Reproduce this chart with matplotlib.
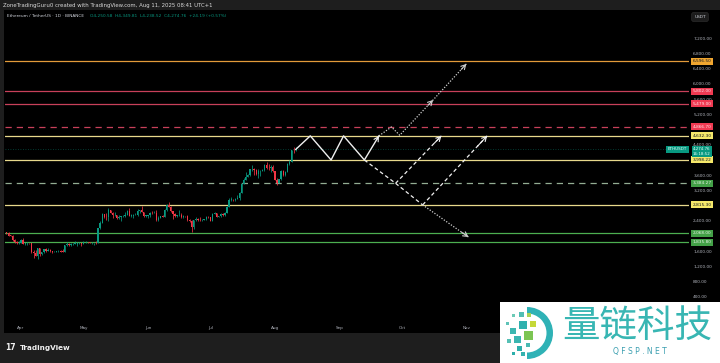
import numpy as np
import pandas as pd
import matplotlib
matplotlib.use('Agg')
import matplotlib.pyplot as plt
from matplotlib.patches import Rectangle, Wedge

plt.rcParams['font.family'] = ['DejaVu Sans', 'Noto Sans CJK SC']

# ---------------- data ----------------
start_date = '2025-03-25'
first_open = 2090
closes = [2070, 2010, 2005, 1895, 1830, 1805, 1822,
          1905, 1795, 1815, 1815, 1805, 1580, 1555, 1475, 1670, 1520, 1565, 1645, 1595, 1625, 1590,
          1575, 1585, 1590, 1615, 1585, 1580, 1755, 1795, 1770, 1785, 1790, 1790, 1800, 1800, 1795,
          1840, 1840, 1835, 1810, 1810, 1815, 1810, 2205, 2345, 2580, 2510, 2500, 2680, 2610, 2545,
          2550, 2475, 2495, 2525, 2525, 2550, 2665, 2530, 2530, 2550, 2560, 2660, 2680, 2630, 2530, 2530,
          2540, 2610, 2590, 2610, 2420, 2480, 2525, 2510, 2680, 2815, 2770, 2645, 2580, 2525, 2545,
          2550, 2510, 2525, 2520, 2410, 2405, 2230, 2410, 2445, 2420, 2415, 2425, 2435, 2500, 2485,
          2405, 2575, 2595, 2510, 2515, 2570, 2545, 2615, 2770, 2950, 2955, 2945, 2970, 3010, 3140,
          3370, 3475, 3545, 3590, 3755, 3760, 3740, 3630, 3710, 3720, 3740, 3865, 3795, 3790, 3810, 3695,
          3480, 3395, 3490, 3720, 3610, 3680, 3905, 3950, 4255, 4250, 4274.76]
highs = [2110, 2095, 2035, 2030, 1910, 1855, 1860,
         1925, 1955, 1825, 1835, 1825, 1815, 1640, 1620, 1690, 1670, 1580, 1650, 1690, 1670, 1660,
         1610, 1600, 1600, 1640, 1620, 1660, 1770, 1830, 1800, 1800, 1805, 1860, 1840, 1840, 1810,
         1875, 1870, 1850, 1845, 1835, 1825, 1865, 2215, 2400, 2600, 2580, 2610, 2730, 2690, 2620,
         2640, 2560, 2550, 2530, 2560, 2620, 2690, 2740, 2575, 2570, 2590, 2700, 2690, 2790, 2640, 2545,
         2550, 2620, 2650, 2650, 2680, 2530, 2530, 2540, 2700, 2830, 2880, 2790, 2650, 2590, 2550,
         2690, 2590, 2540, 2530, 2560, 2445, 2420, 2420, 2490, 2470, 2490, 2450, 2440, 2520, 2530,
         2495, 2590, 2635, 2600, 2530, 2590, 2590, 2620, 2790, 2990, 3020, 2970, 3000, 3080, 3160,
         3380, 3520, 3680, 3620, 3760, 3860, 3780, 3750, 3760, 3740, 3765, 3880, 3940, 3880, 3860, 3870,
         3710, 3520, 3500, 3740, 3730, 3720, 3920, 4010, 4270, 4330, 4349.81]
lows = [2050, 1995, 1985, 1870, 1810, 1785, 1790,
        1815, 1780, 1750, 1770, 1790, 1540, 1410, 1460, 1385, 1470, 1505, 1540, 1575, 1590, 1580,
        1540, 1565, 1575, 1580, 1570, 1570, 1570, 1745, 1725, 1745, 1770, 1780, 1745, 1790, 1735,
        1790, 1825, 1825, 1800, 1790, 1755, 1785, 1805, 2170, 2330, 2470, 2410, 2400, 2590, 2480,
        2530, 2450, 2440, 2400, 2490, 2500, 2550, 2520, 2510, 2470, 2540, 2520, 2610, 2620, 2510, 2490,
        2470, 2500, 2580, 2590, 2380, 2400, 2460, 2490, 2500, 2660, 2755, 2630, 2440, 2500, 2510,
        2530, 2460, 2470, 2500, 2380, 2360, 2110, 2170, 2390, 2390, 2400, 2380, 2410, 2420, 2470,
        2380, 2390, 2565, 2490, 2500, 2505, 2520, 2520, 2600, 2750, 2930, 2920, 2930, 2970, 2950,
        3120, 3360, 3470, 3540, 3580, 3720, 3610, 3600, 3520, 3580, 3710, 3710, 3760, 3740, 3680, 3680,
        3470, 3350, 3380, 3480, 3570, 3580, 3670, 3860, 3940, 4180, 4238.52]
opens = [first_open] + closes[:-1]

level_prices = [6596.50, 5802.00, 5479.00, 4866.70, 4632.30, 3998.22, 3384.27, 2815.30, 2068.00, 1835.80]
level_labels = ['6,596.50', '5,802.00', '5,479.00', '4,866.70', '4,632.30', '3,998.22',
                '3,384.27', '2,815.30', '2,068.00', '1,835.80']
y_ticks = [7200, 6800, 6400, 6000, 5600, 5200, 4400, 3600, 3200, 2400, 1600, 1200, 800, 400]
month_ticks = ['2025-04-01', '2025-05-01', '2025-06-01', '2025-07-01', '2025-08-01',
               '2025-09-01', '2025-10-01', '2025-11-01']
month_labels = ['Apr', 'May', 'Jun', 'Jul', 'Aug', 'Sep', 'Oct', 'Nov']
last_price = 4274.76

# projection paths (date, price)
zigzag_dates = ['2025-08-11', '2025-08-18', '2025-08-28', '2025-09-03', '2025-09-13', '2025-09-20']
zigzag_prices = [4274.76, 4632.30, 3998.22, 4632.30, 3998.22, 4632.30]
bull_dates = ['2025-09-20', '2025-09-26', '2025-09-30', '2025-10-16', '2025-11-01']
bull_prices = [4632.30, 4866.70, 4650, 5576, 6526]
bear_dates = ['2025-09-13', '2025-09-28', '2025-10-11']
bear_prices = [3998.22, 3384.27, 2815.30]
rebound1_dates = ['2025-09-28', '2025-10-20']
rebound1_prices = [3384.27, 4632.30]
rebound2_dates = ['2025-10-11', '2025-11-11']
rebound2_prices = [2815.30, 4632.30]
drop_dates = ['2025-10-11', '2025-11-02']
drop_prices = [2815.30, 1971]

# ---------------- style ----------------
W, H = 720, 363
BG_PANEL = '#000000'
BG_FRAME = '#1e1e1e'
UP = '#089981'
DOWN = '#f23645'
AXIS_TXT = '#b2b5be'
ORANGE = '#e39b3a'
RED_LINE = '#c8405a'
RED_LBL = '#f03a52'
YEL_LINE = '#e8d98c'
YEL_LBL = '#f4e76a'
GRN_LINE = '#4caf50'
GRN_LBL = '#43a047'
GRN_DASH = '#93ad93'

level_line_colors = [ORANGE, RED_LINE, RED_LINE, RED_LINE, YEL_LINE, YEL_LINE, GRN_DASH, YEL_LINE, GRN_LINE, GRN_LINE]
level_box_colors = ['#f0a630', RED_LBL, RED_LBL, RED_LBL, YEL_LBL, YEL_LBL, GRN_LBL, YEL_LBL, GRN_LBL, GRN_LBL]
level_txt_colors = ['#131722', '#fde3e6', '#fde3e6', '#fde3e6', '#131722', '#131722', '#e8f5e8', '#131722', '#e8f5e8', '#e8f5e8']
level_ls = ['-', '-', '-', (0, (5, 4)), '-', '-', (0, (5, 4)), '-', '-', '-']

fig = plt.figure(figsize=(W / 100, H / 100), dpi=100, facecolor=BG_FRAME)
# black chart panel (behind the axes)
fig.patches.append(Rectangle((4 / W, (H - 333) / H), 1 - 4 / W, (333 - 10) / H,
                             transform=fig.transFigure, facecolor=BG_PANEL, edgecolor='none', zorder=-5))

ax = fig.add_axes([5 / W, (H - 322) / H, 684 / W, 312 / H])
ax.set_facecolor(BG_PANEL)
ref = pd.Timestamp('2025-04-01')
dates = pd.date_range(start_date, periods=len(closes), freq='D')
x = np.array((dates - ref).days, dtype=float)


def dnum(ds):
    return np.array((pd.to_datetime(ds) - ref).days, dtype=float)


o = np.array(opens, float)
c = np.array(closes, float)
hi = np.array(highs, float)
lo = np.array(lows, float)
up = c >= o
cols = np.where(up, UP, DOWN)

# levels
for p, lc, ls in zip(level_prices, level_line_colors, level_ls):
    ax.axhline(p, color=lc, lw=0.9, ls=ls, zorder=2)
ax.axhline(last_price, color=UP, lw=0.6, ls=(0, (1, 2)), alpha=0.5, zorder=2)

# candles
ax.vlines(x, lo, hi, colors=cols, lw=0.55, zorder=3)
body_b = np.minimum(o, c)
body_h = np.maximum(np.abs(c - o), 10)
ax.bar(x, body_h, bottom=body_b, width=0.62, color=cols, edgecolor='none', zorder=4)

# projections
WHITE = '#f0f0f0'
DOT = '#cfcfcf'
ax.plot(dnum(zigzag_dates), zigzag_prices, color=WHITE, lw=1.0, zorder=6)
bx = dnum(bull_dates)
ax.plot(bx, bull_prices, color=DOT, lw=0.9, ls=(0, (1, 1.3)), zorder=6)
ax.plot(dnum(bear_dates), bear_prices, color=WHITE, lw=0.9, ls=(0, (3, 2.2)), zorder=6)
ax.plot(dnum(rebound1_dates), rebound1_prices, color=WHITE, lw=0.9, ls=(0, (3, 2.2)), zorder=6)
ax.plot(dnum(rebound2_dates), rebound2_prices, color=WHITE, lw=0.9, ls=(0, (3, 2.2)), zorder=6)
ax.plot(dnum(drop_dates), drop_prices, color=DOT, lw=0.9, ls=(0, (1, 1.3)), zorder=6)


def head(xs, ys, color):
    x0, x1 = xs[-2], xs[-1]
    y0, y1 = ys[-2], ys[-1]
    ax.annotate('', xy=(x1, y1), xytext=(x0 + 0.85 * (x1 - x0), y0 + 0.85 * (y1 - y0)),
                arrowprops=dict(arrowstyle='->,head_length=0.45,head_width=0.25', color=color,
                                lw=0.8, mutation_scale=7, shrinkA=0, shrinkB=0), zorder=7)


head(dnum(zigzag_dates), zigzag_prices, WHITE)
head(bx[:4], bull_prices[:4], DOT)
head(bx, bull_prices, DOT)
head(dnum(rebound1_dates), rebound1_prices, WHITE)
head(dnum(rebound2_dates), rebound2_prices, WHITE)
head(dnum(drop_dates), drop_prices, DOT)

# axes limits / ticks
ax.set_xlim(-7.7, 321)
ax.set_ylim(-266, 7945)
for s in ax.spines.values():
    s.set_visible(False)
ax.yaxis.tick_right()
ax.set_yticks(y_ticks)
ax.set_yticklabels([f'{v:,.2f}' for v in y_ticks])
ax.set_xticks(dnum(month_ticks))
ax.set_xticklabels(month_labels)
ax.tick_params(axis='y', length=0, pad=3, labelsize=3.1, labelcolor=AXIS_TXT)
ax.tick_params(axis='x', length=0, pad=3.0, labelsize=3.0, labelcolor=AXIS_TXT)

# level labels in price scale
ytr = ax.get_yaxis_transform()
for p, t, bc, tc in zip(level_prices, level_labels, level_box_colors, level_txt_colors):
    ax.text(1.0055, p, t, transform=ytr, ha='left', va='center', fontsize=3.1, color=tc,
            bbox=dict(boxstyle='square,pad=0.35', fc=bc, ec='none'), clip_on=False, zorder=10)

# current price label (price on the first line, countdown below)
ax.annotate('4,274.76\n16:18:52', xy=(1.0055, last_price), xycoords=ytr,
            xytext=(0, 1.6), textcoords='offset points', ha='left', va='top',
            fontsize=2.9, color='#e6fff8', linespacing=1.1,
            bbox=dict(boxstyle='square,pad=0.3', fc=UP, ec='none'), annotation_clip=False, zorder=10)
ax.text(0.9975, last_price, 'ETHUSDT', transform=ytr, ha='right', va='center', fontsize=3.0,
        color='#e6fff8', bbox=dict(boxstyle='square,pad=0.35', fc=UP, ec='none'), clip_on=False, zorder=10)

# top-right currency box
fig.text(700 / W, 1 - 17 / H, 'USDT', ha='center', va='center', fontsize=3.1, color='#d1d4dc',
         bbox=dict(boxstyle='round,pad=0.6,rounding_size=0.5', fc='#1c1c1c', ec='#2a2a2a', lw=0.5))

# header texts
fig.text(3 / W, 1 - 5 / H, 'ZoneTradingGuru0 created with TradingView.com, Aug 11, 2025 08:41 UTC+1',
         ha='left', va='center', fontsize=3.9, color='#d8d8d8')
fig.text(7 / W, 1 - 16 / H, 'Ethereum / TetherUS · 1D · BINANCE', ha='left', va='center',
         fontsize=3.1, color='#d1d4dc')
fig.text(90 / W, 1 - 16 / H, 'O4,250.58  H4,349.81  L4,238.52  C4,274.76  +24.19 (+0.57%)',
         ha='left', va='center', fontsize=3.1, color=UP)

# footer TradingView logo
fig.text(5 / W, 1 - 348 / H, '17', ha='left', va='center', fontsize=5.5, color='#f0f0f0',
         fontweight='heavy')
fig.text(20 / W, 1 - 348 / H, 'TradingView', ha='left', va='center', fontsize=5.2, color='#f0f0f0',
         fontweight='bold')

# watermark (overlay logo)
wm = fig.add_axes([500 / W, 0, 220 / W, 61 / H], zorder=5)
wm.set_xlim(500, 720)
wm.set_ylim(363, 302)
wm.set_facecolor('white')
wm.axis('off')
wm.add_patch(Rectangle((500, 302), 220, 61, fc='white', ec='none'))
wm.add_patch(Wedge((527, 333), 26, -90, 90, width=6.5, fc='#2fb2b6', ec='none'))
squares = [(506, 322, 3, '#5fc3b8'), (512, 314, 3, '#6ccab6'), (519, 312, 5, '#50bdb4'),
           (527, 313, 4, '#a8d255'), (510, 328, 6, '#3cb7b0'), (519, 321, 8, '#2fb0ae'),
           (530, 321, 6, '#c5d838'), (507, 339, 4, '#56c0b5'), (514, 336, 7, '#3ab6b1'),
           (524, 331, 9, '#7cc553'), (517, 346, 5, '#2cafac'), (526, 343, 4, '#49b9b2'),
           (512, 352, 3, '#2dafab'), (521, 352, 4, '#35b3af')]
for sx, sy, ss, sc in squares:
    wm.add_patch(Rectangle((sx, sy), ss, ss, fc=sc, ec='none'))
wm.text(637, 326, '量链科技', ha='center', va='center', fontsize=27, color='#38b6b3',
        family=['Noto Sans CJK SC'])
wm.text(640, 352, 'Q F S P . N E T', ha='center', va='center', fontsize=5.5, color='#3b9fb0')

fig.savefig('out.png', dpi=100, facecolor=BG_FRAME)
